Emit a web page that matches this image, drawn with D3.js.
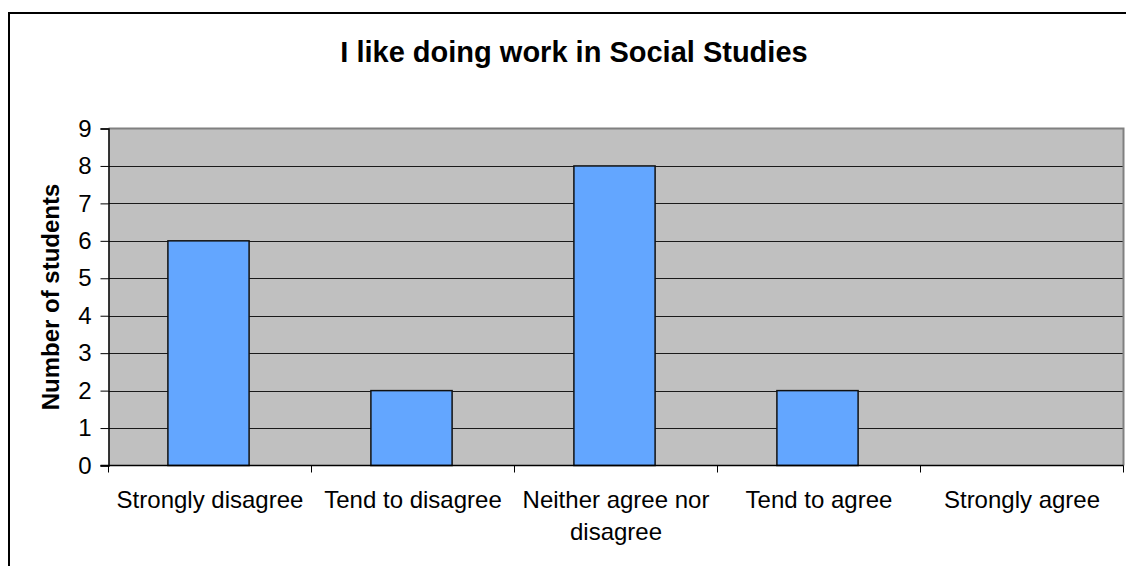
<!DOCTYPE html>
<html>
<head>
<meta charset="utf-8">
<script src="https://cdn.jsdelivr.net/npm/d3@7"></script>
<style>
  html, body { margin: 0; padding: 0; background: #fff; }
  svg { display: block; }
  text { font-family: "Liberation Sans", Arial, sans-serif; fill: #000; }
</style>
</head>
<body>
<svg id="chart" width="1126" height="566"></svg>
<script>
// Survey responses
const categories = [
  "Strongly disagree",
  "Tend to disagree",
  "Neither agree nor disagree",
  "Tend to agree",
  "Strongly agree"
];
const students = [6, 2, 8, 2, 0];
const yTicks = [0, 1, 2, 3, 4, 5, 6, 7, 8, 9];
const title = "I like doing work in Social Studies";
const yTitle = "Number of students";

const svg = d3.select("#chart");
const W = 1126, H = 566;

// Plot area
const plot = { left: 108.5, right: 1123.5, top: 128.5, bottom: 465.5 };

// Outer chart frame (runs past the right and bottom edges)
svg.append("rect")
  .attr("x", 9).attr("y", 13)
  .attr("width", W + 20).attr("height", H + 20)
  .attr("fill", "#fff")
  .attr("stroke", "#000")
  .attr("stroke-width", 2);

const x = d3.scaleBand()
  .domain(categories)
  .range([plot.left, plot.right])
  .paddingInner(0).paddingOuter(0);

const y = d3.scaleLinear()
  .domain([0, 9])
  .range([plot.bottom, plot.top]);

// Plot background
svg.append("rect")
  .attr("x", plot.left).attr("y", plot.top)
  .attr("width", plot.right - plot.left)
  .attr("height", plot.bottom - plot.top)
  .attr("fill", "#c0c0c0");

// Horizontal gridlines
svg.append("g")
  .selectAll("line")
  .data(yTicks.filter(d => d > 0 && d < 9))
  .join("line")
  .attr("x1", plot.left).attr("x2", plot.right)
  .attr("y1", d => Math.round(y(d)) + 0.5)
  .attr("y2", d => Math.round(y(d)) + 0.5)
  .attr("stroke", "#1a1a1a")
  .attr("stroke-width", 1);

// Plot border (top and right in grey)
svg.append("path")
  .attr("d", `M${plot.left},${plot.top} H${plot.right} V${plot.bottom}`)
  .attr("fill", "none")
  .attr("stroke", "#808080")
  .attr("stroke-width", 2);

// Bars
const barW = x.bandwidth() * 0.4;
svg.append("g")
  .selectAll("rect")
  .data(categories.map((c, i) => ({ c, v: students[i] })).filter(d => d.v > 0))
  .join("rect")
  .attr("x", d => x(d.c) + (x.bandwidth() - barW) / 2 - 1.5)
  .attr("y", d => y(d.v))
  .attr("width", barW)
  .attr("height", d => y(0) - y(d.v))
  .attr("fill", "#63a6ff")
  .attr("stroke", "#111")
  .attr("stroke-width", 1.5);

// Y axis
const yAxis = svg.append("g")
  .attr("transform", `translate(${plot.left},0)`)
  .call(d3.axisLeft(y).tickValues(yTicks).tickSize(8).tickPadding(9).tickFormat(d3.format("d")));
yAxis.select(".domain").attr("stroke", "#000").attr("stroke-width", 1.5);
yAxis.selectAll(".tick line").attr("stroke", "#000");
yAxis.selectAll(".tick text")
  .style("font-family", "'Liberation Sans', Arial, sans-serif")
  .style("font-size", "24px")
  .attr("fill", "#000");

// X axis with ticks at category boundaries
const xAxisG = svg.append("g");
xAxisG.append("line")
  .attr("x1", plot.left - 8).attr("x2", plot.right)
  .attr("y1", plot.bottom).attr("y2", plot.bottom)
  .attr("stroke", "#000").attr("stroke-width", 1.5);
const boundaries = categories.map(c => x(c)).concat([x(categories[categories.length - 1]) + x.bandwidth()]);
xAxisG.selectAll("line.tick")
  .data(boundaries)
  .join("line")
  .attr("class", "tick")
  .attr("x1", d => d).attr("x2", d => d)
  .attr("y1", plot.bottom).attr("y2", plot.bottom + 7)
  .attr("stroke", "#000").attr("stroke-width", 1);

// Category labels, wrapped to the band width
function wrapLines(text, maxW, fontSize) {
  const ctx = document.createElement("canvas").getContext("2d");
  ctx.font = `${fontSize}px 'Liberation Sans', Arial, sans-serif`;
  const words = text.split(" ");
  const lines = [];
  let line = "";
  for (const w of words) {
    const test = line ? line + " " + w : w;
    if (ctx.measureText(test).width > maxW && line) { lines.push(line); line = w; }
    else line = test;
  }
  if (line) lines.push(line);
  return lines;
}
const xLabels = svg.append("g");
categories.forEach(c => {
  const lines = wrapLines(c, x.bandwidth() - 6, 24);
  const t = xLabels.append("text")
    .attr("text-anchor", "middle")
    .attr("font-size", 24)
    .attr("x", x(c) + x.bandwidth() / 2)
    .attr("y", 508);
  lines.forEach((l, i) => {
    t.append("tspan")
      .attr("x", x(c) + x.bandwidth() / 2)
      .attr("dy", i === 0 ? 0 : 32)
      .text(l);
  });
});

// Axis title
svg.append("text")
  .attr("transform", `translate(59,${(plot.top + plot.bottom) / 2}) rotate(-90)`)
  .attr("text-anchor", "middle")
  .attr("font-size", 24)
  .attr("font-weight", "bold")
  .text(yTitle);

// Chart title
svg.append("text")
  .attr("x", 574)
  .attr("y", 62)
  .attr("text-anchor", "middle")
  .attr("font-size", 29)
  .attr("font-weight", "bold")
  .text(title);
</script>
</body>
</html>
